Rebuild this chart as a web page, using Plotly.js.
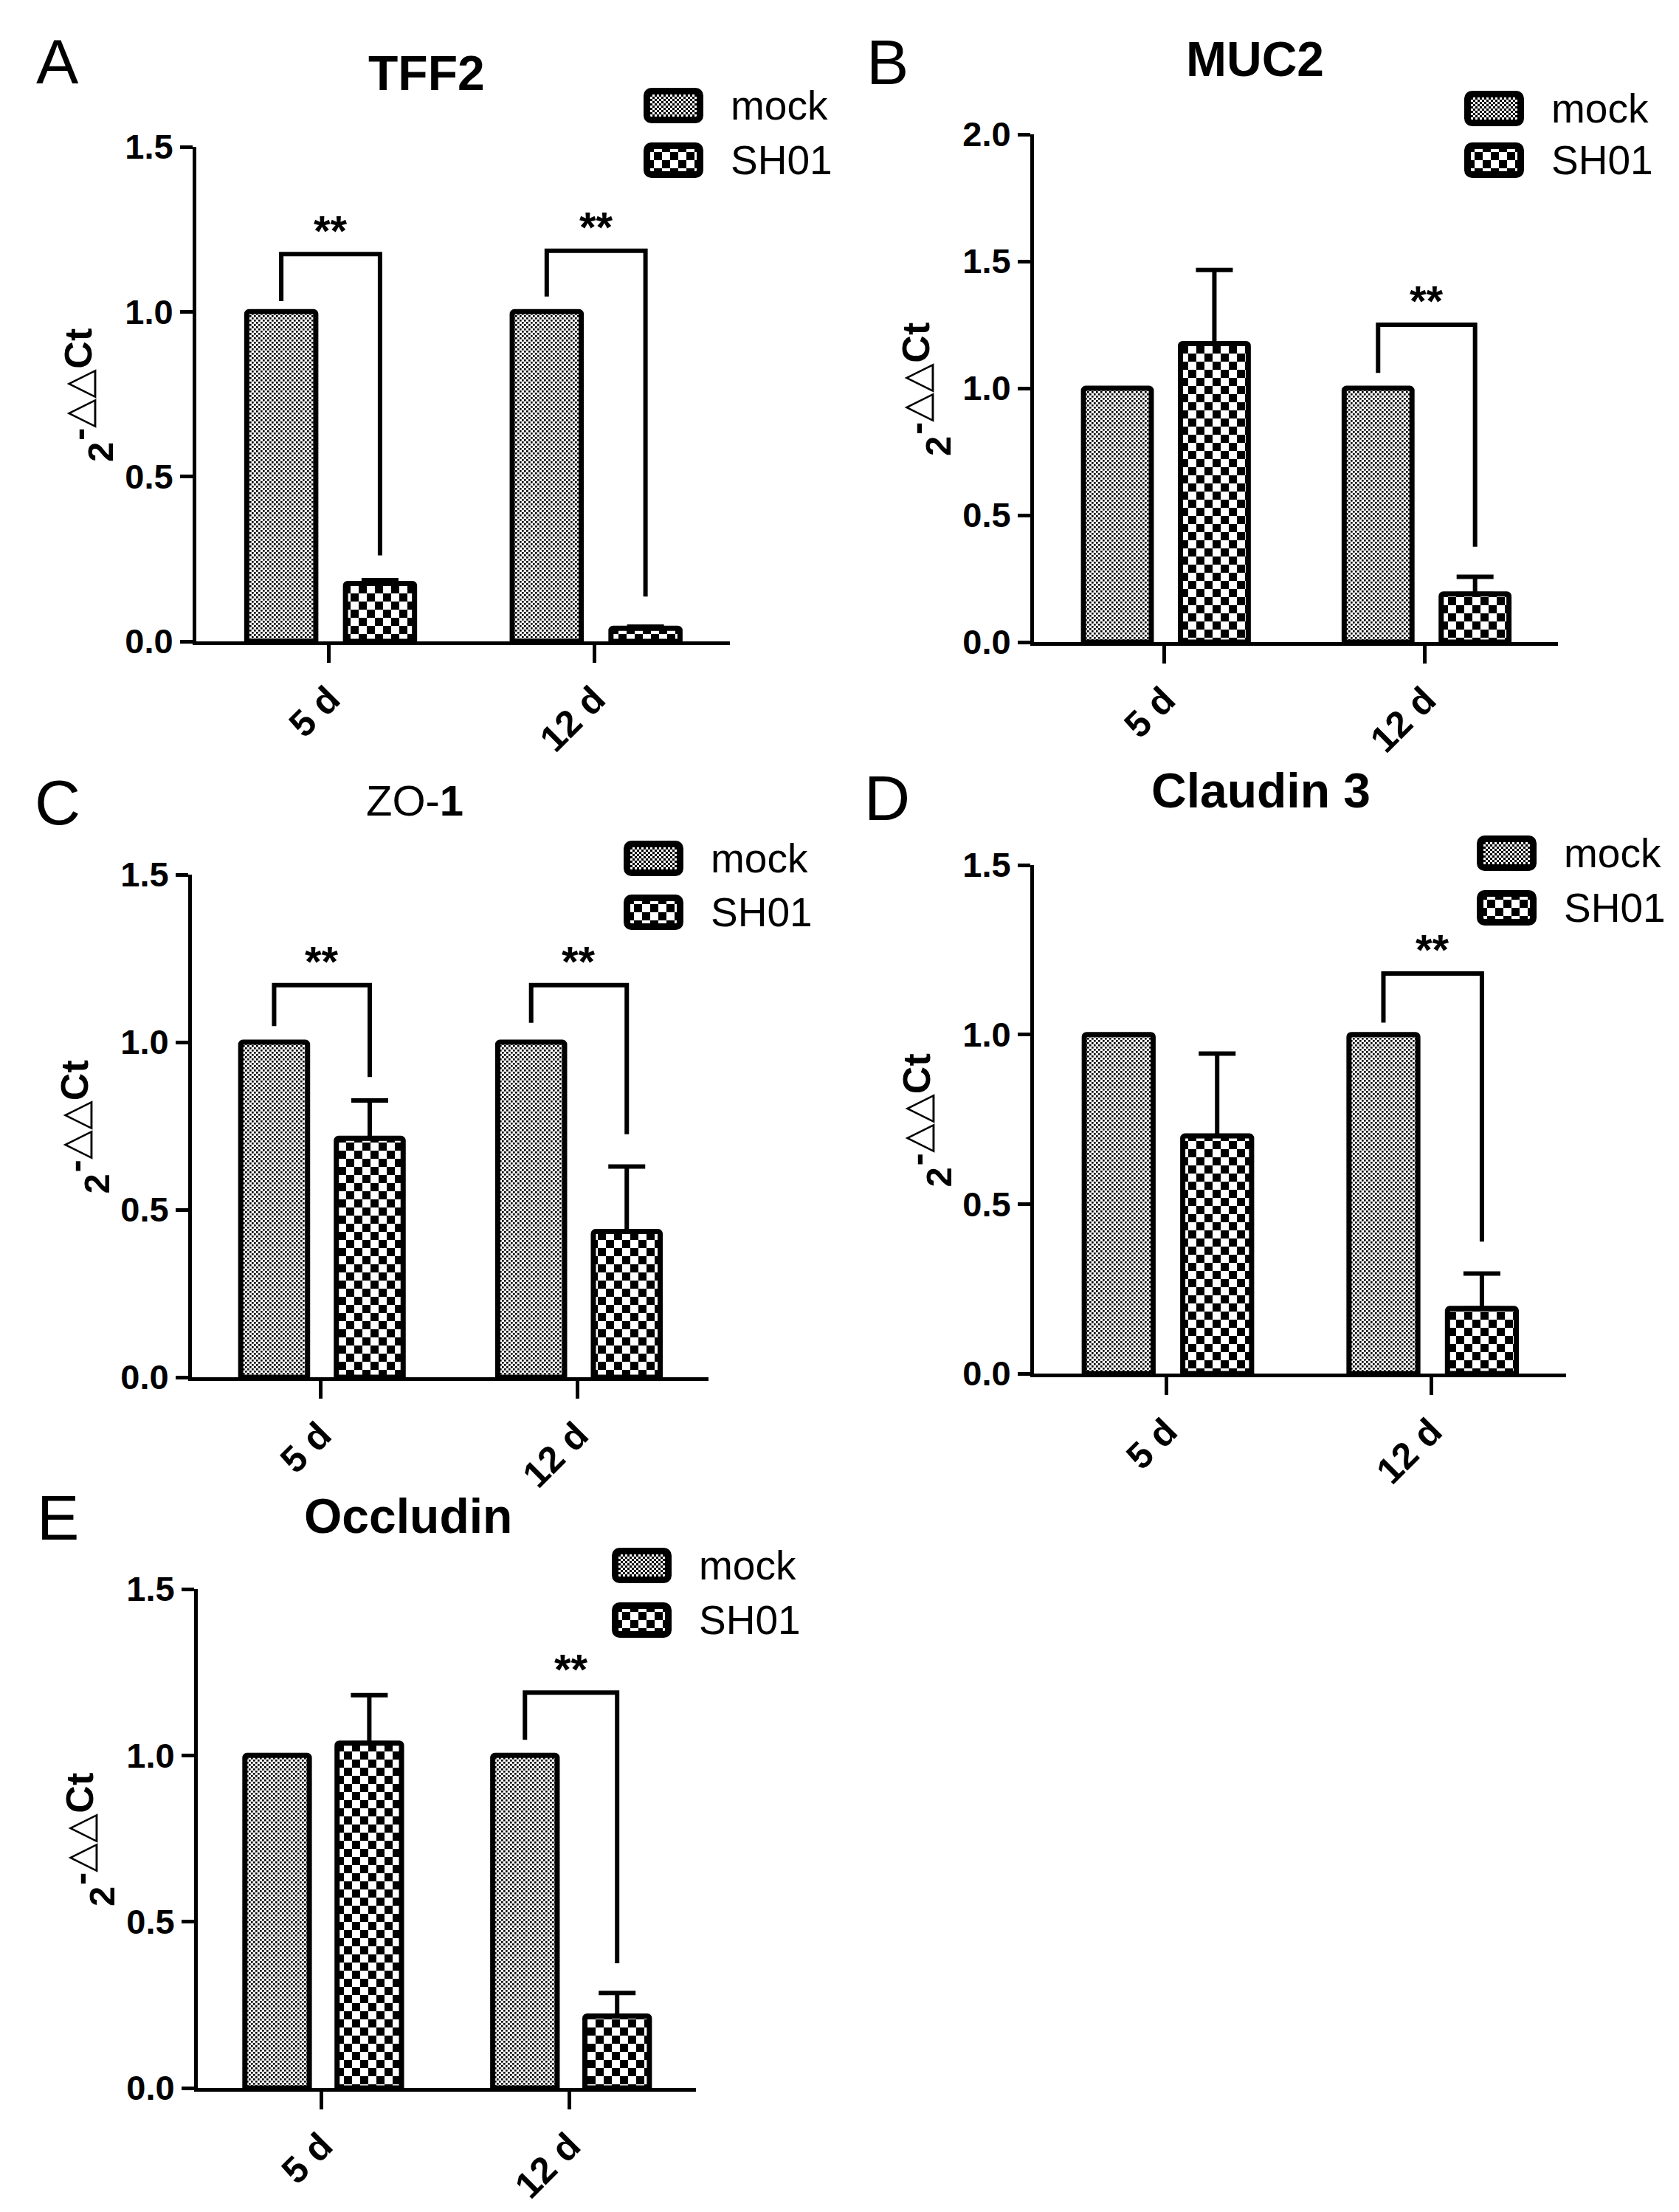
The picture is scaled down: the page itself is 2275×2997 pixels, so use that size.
<!DOCTYPE html>
<html>
<head>
<meta charset="utf-8">
<script src="https://cdn.plot.ly/plotly-3.0.1.min.js"></script>
<style>html,body{margin:0;padding:0;background:#fff;}</style>
</head>
<body>
<div id="fig" style="width:2275px;height:2997px;"></div>
<script>
var FIG = document.getElementById('fig');
var W = 2275, H = 2997;
var FONT = 'Liberation Sans, Arial, sans-serif';

var days = ['5 d', '12 d'];
var groups = ['mock', 'SH01'];

// values, one set per panel
var tff2Mock = [1.0, 1.0];
var tff2Sh01 = [0.176, 0.04];
var tff2Sh01Err = [0.01, 0.005];
// [day index, bracket top, mock leg end, SH01 leg end]
var tff2Brackets = [[0, 1.175, 1.032, 0.261], [1, 1.185, 1.046, 0.136]];

var muc2Mock = [1.0, 1.0];
var muc2Sh01 = [1.176, 0.19];
var muc2Sh01Err = [0.29, 0.067];
var muc2Brackets = [[1, 1.25, 1.06, 0.376]];

var zo1Mock = [1.0, 1.0];
var zo1Sh01 = [0.713, 0.435];
var zo1Sh01Err = [0.113, 0.194];
var zo1Brackets = [[0, 1.17, 1.048, 0.896], [1, 1.17, 1.058, 0.725]];

var cld3Mock = [1.0, 1.0];
var cld3Sh01 = [0.701, 0.192];
var cld3Sh01Err = [0.243, 0.103];
var cld3Brackets = [[1, 1.18, 1.035, 0.389]];

var occMock = [1.0, 1.0];
var occSh01 = [1.037, 0.2165];
var occSh01Err = [0.144, 0.069];
var occBrackets = [[1, 1.189, 1.047, 0.375]];

var titles = ['<b>TFF2</b>', '<b>MUC2</b>', 'ZO-<b>1</b>', '<b>Claudin 3</b>', '<b>Occludin</b>'];
var titleSize = [66, 66, 58, 66, 66];
var letters = ['A', 'B', 'C', 'D', 'E'];
var yMax = [1.5, 2.0, 1.5, 1.5, 1.5];
var yTitleBase = '<b>2</b>';
var yTitleSup = '<b>-</b>△△<b>Ct</b>';

// layout geometry in pixels of the page
var plotBox = [[266, 989, 199, 869], [1401, 2111, 182, 870], [260, 960, 1185, 1866], [1401, 2122, 1172, 1861], [268, 943, 2153, 2829]];
var titlePos = [[578, 99], [1700, 80], [562, 1085], [1708, 1071], [553, 2054]];
var letterPos = [[78, 83], [1202, 84], [78, 1087], [1202, 1081], [78, 2056]];
var legendBox = [[872, 953, 143, 217], [1984, 2065, 147, 217], [845, 926, 1163, 1236], [2001, 2082, 1156, 1230], [829, 910, 2121, 2195]];

var BAR_W = 0.26, MOCK_OFF = -0.31, SH_OFF = 0.062;

function px(x) { return x / W; }
function py(y) { return 1 - y / H; }

var mockPattern = { shape: '.', size: 6, solidity: 0.45, fgcolor: 'black', bgcolor: 'white', fillmode: 'replace' };
var shPattern = { shape: '.', size: 22, solidity: 0.5, fgcolor: 'black', bgcolor: 'white', fillmode: 'replace' };

function swatch(kind) {
  var pat = kind === 'mock'
    ? "<pattern id='p' width='6' height='6' patternUnits='userSpaceOnUse'><rect width='6' height='6' fill='white'/><rect width='3' height='3' fill='black'/><rect x='3' y='3' width='3' height='3' fill='black'/></pattern>"
    : "<pattern id='p' x='3' y='2' width='22' height='22' patternUnits='userSpaceOnUse'><rect width='22' height='22' fill='white'/><rect width='11' height='11' fill='black'/><rect x='11' y='11' width='11' height='11' fill='black'/></pattern>";
  var svg = "<svg xmlns='http://www.w3.org/2000/svg' width='81' height='48'><defs>" + pat +
    "</defs><rect x='4.5' y='4.5' width='72' height='39' rx='6' fill='url(#p)' stroke='black' stroke-width='9'/></svg>";
  return 'data:image/svg+xml;charset=utf-8,' + encodeURIComponent(svg);
}

function note(x, y, text, size, extra) {
  var a = {
    xref: 'paper', yref: 'paper', x: px(x), y: py(y), xanchor: 'center', yanchor: 'middle',
    text: text, showarrow: false, font: { family: FONT, size: size, color: 'black' }
  };
  for (var k in extra) a[k] = extra[k];
  return a;
}

var panels = [
  [tff2Mock, tff2Sh01, tff2Sh01Err, tff2Brackets],
  [muc2Mock, muc2Sh01, muc2Sh01Err, muc2Brackets],
  [zo1Mock, zo1Sh01, zo1Sh01Err, zo1Brackets],
  [cld3Mock, cld3Sh01, cld3Sh01Err, cld3Brackets],
  [occMock, occSh01, occSh01Err, occBrackets]
];

var data = [];
var layout = {
  width: W, height: H,
  margin: { l: 0, r: 0, t: 0, b: 0 },
  paper_bgcolor: 'white', plot_bgcolor: 'white',
  showlegend: false,
  barmode: 'overlay',
  font: { family: FONT, color: 'black' },
  shapes: [], annotations: [], images: []
};

panels.forEach(function (p, i) {
  var n = i === 0 ? '' : String(i + 1);
  var xa = 'x' + n, ya = 'y' + n;
  var box = plotBox[i];

  data.push({
    type: 'bar', name: groups[0], x: days, y: p[0], xaxis: xa, yaxis: ya,
    width: BAR_W, offset: MOCK_OFF,
    marker: { color: 'white', line: { color: 'black', width: 7 }, pattern: mockPattern, cornerradius: 3 }
  });
  data.push({
    type: 'bar', name: groups[1], x: days, y: p[1], xaxis: xa, yaxis: ya,
    width: BAR_W, offset: SH_OFF,
    marker: { color: 'white', line: { color: 'black', width: 7 }, pattern: shPattern, cornerradius: 3 },
    error_y: { type: 'data', symmetric: false, array: p[2], arrayminus: [0, 0], color: 'black', thickness: 6, width: 25 }
  });

  layout['xaxis' + n] = {
    domain: [px(box[0]), px(box[1])], anchor: ya,
    type: 'category', range: [-0.5, 1.51],
    showline: true, linewidth: 5, linecolor: 'black', showgrid: false, zeroline: false,
    ticks: 'outside', ticklen: 24, tickwidth: 5, tickcolor: 'black',
    tickangle: -45, tickfont: { family: FONT, size: 50, weight: 'bold' }
  };
  layout['yaxis' + n] = {
    domain: [py(box[3]), py(box[2])], anchor: xa,
    range: [0, yMax[i]], dtick: 0.5, tickformat: '.1f',
    showline: true, linewidth: 5, linecolor: 'black', showgrid: false, zeroline: false,
    ticks: 'outside', ticklen: 17, tickwidth: 5, tickcolor: 'black',
    tickfont: { family: FONT, size: 47, weight: 'bold' }
  };

  // significance brackets from mock centre to SH01 centre
  p[3].forEach(function (b) {
    var xl = b[0] + MOCK_OFF + BAR_W / 2;
    var xr = b[0] + SH_OFF + BAR_W / 2;
    layout.shapes.push({
      type: 'path', xref: xa, yref: ya,
      path: 'M' + xl + ',' + b[2] + ' L' + xl + ',' + b[1] + ' L' + xr + ',' + b[1] + ' L' + xr + ',' + b[3],
      line: { color: 'black', width: 6 }
    });
    layout.annotations.push({
      xref: xa, yref: ya, x: (xl + xr) / 2, y: b[1], xanchor: 'center', yanchor: 'middle', yshift: 32,
      text: '<b>**</b>', showarrow: false, font: { family: FONT, size: 58 }
    });
  });

  // panel title, letter and y title (base "2" and raised exponent)
  var mid = (box[2] + box[3]) / 2;
  layout.annotations.push(note(titlePos[i][0], titlePos[i][1], titles[i], titleSize[i]));
  layout.annotations.push(note(letterPos[i][0], letterPos[i][1], letters[i], 86));
  layout.annotations.push(note(box[0] - 130, mid + 79, yTitleBase, 49, { textangle: -90 }));
  layout.annotations.push(note(box[0] - 160, mid - 13, yTitleSup, 52, { textangle: -90 }));

  // legend: swatch images and labels
  var lb = legendBox[i];
  [0, 1].forEach(function (k) {
    var cy = lb[2 + k];
    layout.images.push({
      source: swatch(groups[k]), xref: 'paper', yref: 'paper',
      x: px(lb[0]), y: py(cy - 24), sizex: px(lb[1] - lb[0]), sizey: 48 / H,
      xanchor: 'left', yanchor: 'top', sizing: 'stretch', layer: 'above'
    });
    layout.annotations.push(note(lb[1] + 35, cy, groups[k], 55, { xanchor: 'left' }));
  });
});

// turn the dot tiles into the checkerboard tiles of the original figure
function checkerTiles() {
  var NS = 'http://www.w3.org/2000/svg';
  FIG.querySelectorAll('pattern').forEach(function (pt) {
    var s = parseFloat(pt.getAttribute('width'));
    if (!s) return;
    var q = s < 10 ? s * 0.44 : s / 2;   // the fine mock tile is a little lighter
    while (pt.firstChild) pt.removeChild(pt.firstChild);
    [[0, 0, s, 'white'], [0, 0, q, 'black'], [s / 2, s / 2, q, 'black']].forEach(function (r) {
      var el = document.createElementNS(NS, 'rect');
      el.setAttribute('x', r[0]); el.setAttribute('y', r[1]);
      el.setAttribute('width', r[2]); el.setAttribute('height', r[2]);
      el.setAttribute('fill', r[3]);
      pt.appendChild(el);
    });
  });
}

Plotly.newPlot(FIG, data, layout, { staticPlot: true }).then(checkerTiles);
</script>
</body>
</html>
